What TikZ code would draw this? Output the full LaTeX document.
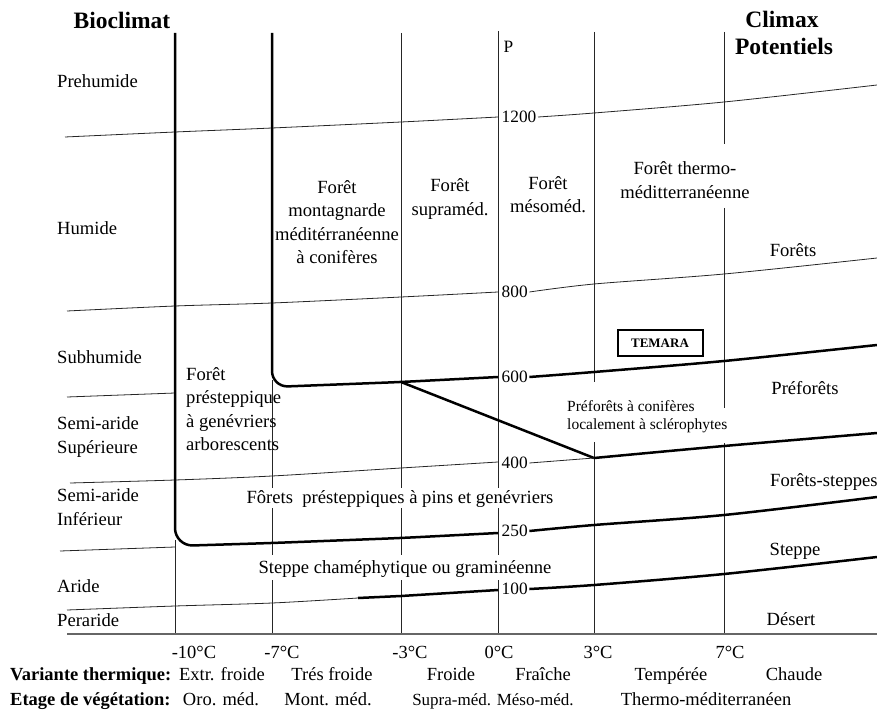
\documentclass[tikz,border=0pt]{standalone}
\usepackage{fontspec}
\setmainfont{Liberation Serif}
\begin{document}
\begin{tikzpicture}[x=1pt, y=-1pt,
    lab/.style={font=\fontsize{18.6}{23.3}\selectfont, inner sep=1pt},
    lab1/.style={lab, text height=13pt, text depth=1pt},
    head/.style={font=\fontsize{23.5}{26}\selectfont\bfseries, inner sep=1pt},
    rowlab/.style={font=\fontsize{18.5}{22}\selectfont, inner sep=1pt, text height=13pt, text depth=1pt},
    rowhead/.style={rowlab, font=\fontsize{18.5}{22}\selectfont\bfseries, anchor=west},
    num/.style={font=\fontsize{17.3}{20}\selectfont, inner sep=1.5pt, anchor=west},
    small/.style={font=\fontsize{15.5}{18}\selectfont, inner sep=1pt},
    thinline/.style={line width=0.8pt, black!85},
    thickline/.style={line width=2.5pt, line join=round},
    baseline/.style={line width=2pt, black!60}]
  \useasboundingbox (0,0) rectangle (877,711);

  \node[head] (bioclimat) at (122,20) {Bioclimat};
  \node[head] (climax) at (782,19) {Climax};
  \node[head] (potentiels) at (784,46) {Potentiels};
  \node[num] (p) at (502,47) {P};

  \node[lab1, anchor=west] (prehumide) at (56,82) {Prehumide};
  \node[lab1, anchor=west] (humide) at (56,228) {Humide};
  \node[lab1, anchor=west] (subhumide) at (56,357) {Subhumide};
  \node[lab, anchor=west, align=left] (semisup) at (56,437) {Semi-aride\\Supérieure};
  \node[lab, anchor=west, align=left] (semiinf) at (56,507) {Semi-aride\\Inférieur};
  \node[lab1, anchor=west] (aride) at (56,586) {Aride};
  \node[lab1, anchor=west] (peraride) at (56,620) {Peraride};

  % verticales
  \draw[thinline] (175,540) -- (175,634);
  \draw[thinline] (272,380) -- (272,488);
  \draw[thinline] (272,508) -- (272,555);
  \draw[thinline] (272,580) -- (272,634);
  \draw[thinline] (401,33) -- (401,488);
  \draw[thinline] (401,508) -- (401,555);
  \draw[thinline] (401,580) -- (401,634);
  \draw[thinline] (498,31) -- (498,488);
  \draw[thinline] (498,508) -- (498,555);
  \draw[thinline] (498,580) -- (498,634);
  \draw[thinline] (594,32) -- (594,382);
  \draw[thinline] (594,442) -- (594,634);
  \draw[thinline] (724,32) -- (724,144);
  \draw[thinline] (724,208) -- (724,408);
  \draw[thinline] (724,443) -- (724,634);
  \draw[baseline] (67,634) -- (877,634);

  \node[num] (p1200) at (500,117) {1200};
  \node[num] (p800) at (500,292) {800};
  \node[num] (p600) at (500,377) {600};
  \node[num] (p400) at (500,463) {400};
  \node[num] (p250) at (500,531) {250};
  \node[num] (p100) at (500,589) {100};

  % isohyetes
  \draw[thinline] plot[smooth] coordinates {(65,137) (175,132) (272,128) (401,122) (498,117)};
  \draw[thinline] plot[smooth] coordinates {(p1200.east) (594,113) (724,102) (877,85)};
  \draw[thinline] plot[smooth] coordinates {(67,311) (175,306) (272,303) (401,297) (498,292)};
  \draw[thinline] plot[smooth] coordinates {(p800.east) (594,284) (724,274) (877,258)};
  \draw[thinline] (67,397) -- (175,393);
  \draw[thickline, rounded corners=16pt] (272,33) -- (272,387) -- (401,382) -- (498,377);
  \draw[thickline] plot[smooth] coordinates {(p600.east) (594,372) (724,361) (877,345)};
  \draw[thickline] (401,382) -- (594,458);
  \draw[thickline] plot[smooth] coordinates {(594,458) (724,446) (877,433)};
  \draw[thinline] plot[smooth] coordinates {(70,483) (175,480) (272,476) (401,468) (498,462)};
  \draw[thinline] (p400.east) -- (594,458);
  \draw[thinline] (60,551) -- (175,547);
  \draw[thickline, rounded corners=18pt] (175,33) -- (175,546) -- (272,543) -- (401,538) -- (498,533);
  \draw[thickline] plot[smooth] coordinates {(p250.east) (594,525) (724,515) (877,497)};
  \draw[thinline] plot[smooth] coordinates {(67,610) (175,606) (272,603) (358,598)};
  \draw[thickline] (358,598) -- (401,596) -- (498,590);
  \draw[thickline] plot[smooth] coordinates {(p100.east) (594,585) (724,574) (877,557)};

  \node[lab, align=center] (montagnarde) at (337,222) {Forêt\\montagnarde\\méditérranéenne\\à conifères};
  \node[lab, align=center] (supramed) at (450,199) {Forêt\\supraméd.};
  \node[lab, align=center] (mesomed) at (548,195) {Forêt\\mésoméd.};
  \node[lab, align=center] (thermo) at (685,180) {Forêt thermo-\\méditterranéenne};
  \node[lab, anchor=west, align=left] (presteppique) at (185,409) {Forêt\\présteppique\\à genévriers\\arborescents};
  \node[small, anchor=west, align=left] (coniferes) at (566,417) {Préforêts à conifères\\localement à sclérophytes};
  \node[draw, line width=2pt, minimum width=85pt, minimum height=26pt,
        font=\fontsize{13}{15}\selectfont\bfseries] (temara) at (660,343) {TEMARA};
  \node[lab1] (pins) at (400,497) {Fôrets\ \ présteppiques à pins et genévriers};
  \node[lab1] (chamephytique) at (405,567) {Steppe chaméphytique ou graminéenne};

  \node[lab1] (forets) at (793,250) {Forêts};
  \node[lab1] (preforets) at (805,388) {Préforêts};
  \node[lab1, anchor=west] (foretssteppes) at (769,480) {Forêts-steppes};
  \node[lab1] (steppe) at (795,549) {Steppe};
  \node[lab1] (desert) at (791,619) {Désert};

  \node[rowlab] (t10) at (194,652) {-10°C};
  \node[rowlab] (t7) at (282,652) {-7°C};
  \node[rowlab] (t3) at (410,652) {-3°C};
  \node[rowlab] (t0) at (499,652) {0°C};
  \node[rowlab] (tp3) at (598,652) {3°C};
  \node[rowlab] (tp7) at (730,652) {7°C};

  \node[rowhead] (variante) at (9,674) {Variante thermique:};
  \node[rowlab] (extr) at (222,674) {Extr. froide};
  \node[rowlab] (tres) at (332,674) {Trés froide};
  \node[rowlab] (froide) at (451,674) {Froide};
  \node[rowlab] (fraiche) at (543,674) {Fraîche};
  \node[rowlab] (temperee) at (671,674) {Tempérée};
  \node[rowlab] (chaude) at (794,674) {Chaude};

  \node[rowhead] (etage) at (9,699) {Etage de végétation:};
  \node[rowlab] (oro) at (221,699) {Oro. méd.};
  \node[rowlab] (mont) at (328,699) {Mont. méd.};
  \node[rowlab, font=\fontsize{17}{20}\selectfont] (supra) at (493,699) {Supra-méd. Méso-méd.};
  \node[rowlab] (thermomed) at (706,699) {Thermo-méditerranéen};
\end{tikzpicture}
\end{document}
